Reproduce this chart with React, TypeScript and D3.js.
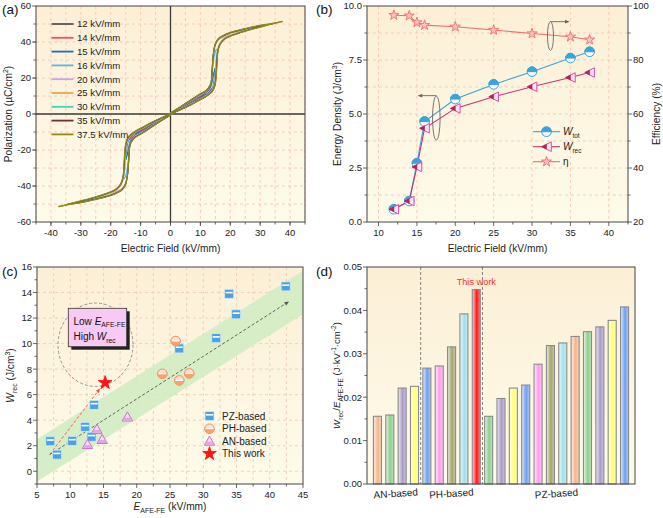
import React from "react";
import * as d3 from "d3";

const FONT = "'Liberation Sans', Arial, Helvetica, sans-serif";

// ---------------- Panel (a): P-E loops ----------------
const loopLabels = ["12 kV/mm", "14 kV/mm", "15 kV/mm", "16 kV/mm", "20 kV/mm", "25 kV/mm", "30 kV/mm", "35 kV/mm", "37.5 kV/mm"];
const rise12 = [[0, 0], [3, 2.6], [6, 5.3], [9, 8.1], [12, 11.2]];
const fall12 = [[12, 11.2], [9, 8.7], [6, 5.9], [3, 3.1], [0, 0.3]];
const rise14 = [[0, 0], [3, 2.5], [6, 5.1], [9, 7.9], [12, 10.8], [13.3, 12.7], [14, 14.5]];
const fall14 = [[14, 14.5], [13.2, 13.4], [12, 12], [9, 9.1], [6, 6.1], [3, 3.2], [0, 0.3]];
const rise15 = [[0, 0], [3, 2.4], [6, 5], [9, 7.7], [12, 10.6], [13.6, 13], [14.3, 15.8], [14.7, 20], [15, 25.5]];
const fall15 = [[15, 25.5], [14.5, 22.8], [14, 18.5], [13.3, 14.6], [12, 12.3], [9, 9.4], [6, 6.3], [3, 3.3], [0, 0.3]];
const rise16 = [[0, 0], [3, 2.4], [6, 4.9], [9, 7.6], [12, 10.4], [13.7, 12.9], [14.5, 16], [15, 23], [15.4, 31], [16, 36.5]];
const fall16 = [[16, 36.5], [15.2, 35.3], [14.5, 31], [14, 24], [13.5, 17.2], [12.5, 13.8], [12, 12.6], [9, 9.6], [6, 6.4], [3, 3.4], [0, 0.3]];
const rise20 = [[0, 0], [3, 2.3], [6, 4.8], [9, 7.5], [12, 10.2], [13.8, 12.9], [14.6, 16.2], [15.1, 24], [15.5, 33], [16.3, 38.5], [17.6, 41.5], [20, 44]];
const fall20 = [[20, 44], [17.5, 42.6], [16, 41], [15, 38.3], [14.3, 32.5], [13.9, 23], [13.5, 16.5], [12.6, 14], [12, 12.8], [9, 9.8], [6, 6.5], [3, 3.4], [0, 0.4]];
const rise25 = [[0, 0], [3, 2.3], [6, 4.7], [9, 7.4], [12, 10.1], [13.9, 12.9], [14.7, 16.3], [15.2, 24.5], [15.6, 33.5], [16.4, 38.6], [17.8, 41.6], [20, 43.7], [25, 46.6]];
const fall25 = [[25, 46.6], [22, 45.7], [20, 44.8], [17.5, 43], [16, 41.3], [15, 38.5], [14.3, 32.5], [13.9, 23], [13.5, 16.5], [12.6, 14], [12, 12.9], [9, 9.9], [6, 6.6], [3, 3.5], [0, 0.4]];
const rise30 = [[0, 0], [3, 2.2], [6, 4.6], [9, 7.3], [12, 10], [14, 12.9], [14.8, 16.4], [15.3, 25], [15.7, 34], [16.5, 38.7], [18, 41.7], [20, 43.5], [25, 46.3], [30, 48.6]];
const fall30 = [[30, 48.6], [25, 47.1], [20, 45], [17.5, 43.2], [16, 41.5], [15, 38.7], [14.3, 32.5], [13.9, 23], [13.5, 16.5], [12.6, 14.1], [12, 13], [9, 10], [6, 6.7], [3, 3.5], [0, 0.5]];
const rise35 = [[0, 0], [3, 2.2], [6, 4.5], [9, 7.2], [12, 9.9], [14.1, 12.9], [14.9, 16.5], [15.4, 25.5], [15.8, 34.5], [16.6, 38.8], [18.2, 41.8], [20, 43.3], [25, 46.1], [30, 48.4], [35, 50.4]];
const fall35 = [[35, 50.4], [30, 49.1], [25, 47.3], [20, 45.2], [17.5, 43.4], [16, 41.7], [15, 38.9], [14.3, 32.5], [13.9, 23], [13.5, 16.5], [12.6, 14.2], [12, 13.1], [9, 10.1], [6, 6.8], [3, 3.6], [0, 0.5]];
const rise375 = [[0, 0], [3, 2.1], [6, 4.4], [9, 7.1], [12, 9.8], [14.2, 12.9], [15, 16.6], [15.5, 26], [15.9, 35], [16.7, 39], [18.4, 41.9], [20, 43.2], [25, 46], [30, 48.3], [35, 50.5], [37.5, 51.5]];
const fall375 = [[37.5, 51.5], [35, 50.6], [30, 49.2], [25, 47.4], [20, 45.3], [17.5, 43.5], [16, 41.8], [15, 39], [14.3, 32.5], [13.9, 23], [13.5, 16.5], [12.6, 14.3], [12, 13.2], [9, 10.2], [6, 6.9], [3, 3.6], [0, 0.5]];
const loopRises = [rise12, rise14, rise15, rise16, rise20, rise25, rise30, rise35, rise375];
const loopFalls = [fall12, fall14, fall15, fall16, fall20, fall25, fall30, fall35, fall375];
const aXTicks = [-40, -30, -20, -10, 0, 10, 20, 30, 40];
const aYTicks = [-60, -40, -20, 0, 20, 40, 60];

// ---------------- Panel (b): energy storage ----------------
const bField = [12, 14, 15, 16, 20, 25, 30, 35, 37.5];
const bWtot = [0.59, 0.97, 2.72, 4.65, 5.69, 6.37, 6.96, 7.59, 7.88];
const bWrec = [0.59, 0.97, 2.55, 4.34, 5.26, 5.8, 6.26, 6.69, 6.92];
const bEta = [96.6, 96.4, 93.9, 92.9, 92.3, 91.1, 89.8, 88.6, 87.5];
const bXTicks = [10, 15, 20, 25, 30, 35, 40];
const bYTicks = [0, 2.5, 5, 7.5, 10];
const bY2Ticks = [20, 40, 60, 80, 100];

// ---------------- Panel (c): comparison scatter ----------------
const pzE = [7.0, 8.0, 10.3, 12.25, 13.2, 13.6, 26.4, 31.95, 33.9, 34.95, 42.4];
const pzW = [2.35, 1.3, 2.38, 3.48, 2.7, 5.2, 9.62, 10.43, 13.9, 12.29, 14.48];
const phE = [25.85, 23.85, 26.4, 27.9];
const phW = [10.2, 7.63, 7.11, 7.66];
const anE = [12.6, 14.0, 14.8, 18.6];
const anW = [2.09, 3.27, 2.48, 4.24];
const thisE = [15.25];
const thisW = [6.93];
const bandUpper = [[5, 2.5], [45, 15.7]];
const bandLower = [[5, -0.8], [45, 12.3]];
const trendArrow = [[6.9, 1.3], [42.9, 13.3]];
const thisArrow = [[6.9, 1.3], [14.5, 6.5]];
const cXTicks = [5, 10, 15, 20, 25, 30, 35, 40, 45];
const cYTicks = [0, 2, 4, 6, 8, 10, 12, 14, 16];
const cLegend = ["PZ-based", "PH-based", "AN-based", "This work"];

// ---------------- Panel (d): bars ----------------
const dGroupNames = ["AN-based", "PH-based", "PZ-based"];
const dGroupSizes = [4, 5, 12];
const dValues = [0.0156, 0.0159, 0.0221, 0.0225, 0.0267, 0.0272, 0.0316, 0.0392, 0.0448, 0.0156, 0.0197, 0.0221, 0.0228, 0.0276, 0.0319, 0.0325, 0.034, 0.0351, 0.0362, 0.0377, 0.0408];
const dThisWork = 8;
const dYTicks = [0, 0.01, 0.02, 0.03, 0.04, 0.05];

// ---------------- styles ----------------
const loopColors = ["#555555", "#f0506a", "#1f6fb5", "#52b8e6", "#c9a2ea", "#f0a44a", "#3fd6b8", "#6e2e3f", "#8c8c1c"];
const barPalette = ["#f5b588", "#8ccf8c", "#a99bc9", "#ffff78", "#6f9ff0", "#ff9cf0", "#a3a56e", "#9fe0ea"];
const AX = "#444";
const GRID = "#f3c4ae";
const TICK = 4;
const MINOR = 2.5;
const TFS = 9.5;

const A = { x0: 36, x1: 305, y0: 6, y1: 222 };
const B = { x0: 367, x1: 628, y0: 6, y1: 222 };
const C = { x0: 37, x1: 303, y0: 267, y1: 484 };
const D = { x0: 367, x1: 635, y0: 267, y1: 484 };

function mix(c: string, w: number) {
  return d3.interpolateRgb(c, "#ffffff")(w);
}

function Bg({ p }: any) {
  return <rect x={p.x0} y={p.y0} width={p.x1 - p.x0} height={p.y1 - p.y0} fill="url(#bgGrad)" />;
}

function Frame({ p }: any) {
  return <rect x={p.x0} y={p.y0} width={p.x1 - p.x0} height={p.y1 - p.y0} fill="none" stroke={AX} strokeWidth={1} />;
}

function XAxis({ s, major, minor, y, fmt }: any) {
  return (
    <g>
      {minor.map((v: number) => (
        <line key={"m" + v} x1={s(v)} x2={s(v)} y1={y} y2={y + MINOR} stroke={AX} strokeWidth={0.8} />
      ))}
      {major.map((v: number) => (
        <g key={"M" + v}>
          <line x1={s(v)} x2={s(v)} y1={y} y2={y + TICK} stroke={AX} strokeWidth={0.8} />
          <text x={s(v)} y={y + 13.5} textAnchor="middle" fontSize={TFS} fill="#222">{fmt(v)}</text>
        </g>
      ))}
    </g>
  );
}

function YAxis({ s, major, minor, x, fmt, right }: any) {
  const d = right ? 1 : -1;
  return (
    <g>
      {minor.map((v: number) => (
        <line key={"m" + v} x1={x} x2={x + d * MINOR} y1={s(v)} y2={s(v)} stroke={AX} strokeWidth={0.8} />
      ))}
      {major.map((v: number) => (
        <g key={"M" + v}>
          <line x1={x} x2={x + d * TICK} y1={s(v)} y2={s(v)} stroke={AX} strokeWidth={0.8} />
          <text x={x + d * 5} y={s(v) + 3.4} textAnchor={right ? "start" : "end"} fontSize={TFS} fill="#222">{fmt(v)}</text>
        </g>
      ))}
    </g>
  );
}

function range(a: number, b: number, step: number) {
  return d3.range(a, b + step / 2, step);
}

function PanelA() {
  const x = d3.scaleLinear().domain([-45, 45]).range([A.x0, A.x1]);
  const y = d3.scaleLinear().domain([-60, 60]).range([A.y1, A.y0]);
  const line = d3.line<number[]>().x((d) => x(d[0])).y((d) => y(d[1])).curve(d3.curveCatmullRom.alpha(0.5));
  const neg = (arr: number[][]) => arr.map((d) => [-d[0], -d[1]]);
  return (
    <g>
      <Bg p={A} />
      <g clipPath="url(#clipA)">
        {range(-45, 45, 5).map((v) => (
          <line key={"gx" + v} x1={x(v)} x2={x(v)} y1={A.y0} y2={A.y1} stroke={GRID} strokeDasharray="3,3" strokeWidth={0.8} />
        ))}
        {range(-50, 50, 10).map((v) => (
          <line key={"gy" + v} x1={A.x0} x2={A.x1} y1={y(v)} y2={y(v)} stroke={GRID} strokeDasharray="3,3" strokeWidth={0.8} />
        ))}
        <line x1={x(0)} x2={x(0)} y1={A.y0} y2={A.y1} stroke="#3a3a3a" strokeWidth={1.3} />
        <line x1={A.x0} x2={A.x1} y1={y(0)} y2={y(0)} stroke="#3a3a3a" strokeWidth={1.3} />
        {loopRises.map((r, i) => (
          <g key={"loop" + i} fill="none" stroke={loopColors[i]} strokeWidth={1.2}>
            <path d={line(r as number[][]) || ""} />
            <path d={line(loopFalls[i] as number[][]) || ""} />
            <path d={line(neg(r as number[][])) || ""} />
            <path d={line(neg(loopFalls[i] as number[][])) || ""} />
          </g>
        ))}
      </g>
      {loopLabels.map((l, i) => {
        const yy = 24 + i * 13.8;
        return (
          <g key={"leg" + i}>
            <line x1={51.5} x2={73.5} y1={yy} y2={yy} stroke={loopColors[i]} strokeWidth={1.8} />
            <text x={77} y={yy + 3.4} fontSize={9.6} fill="#222">{l}</text>
          </g>
        );
      })}
      <Frame p={A} />
      <XAxis s={x} major={aXTicks} minor={range(-45, 45, 5)} y={A.y1} fmt={(v: number) => String(v)} />
      <YAxis s={y} major={aYTicks} minor={range(-50, 50, 10)} x={A.x0} fmt={(v: number) => String(v)} />
      <text x={(A.x0 + A.x1) / 2} y={252} textAnchor="middle" fontSize={10.2} fill="#222">Electric Field (kV/mm)</text>
      <text transform={`translate(12,${(A.y0 + A.y1) / 2}) rotate(-90)`} textAnchor="middle" fontSize={10.2} fill="#222">
        Polarization (µC/cm<tspan dy={-4} fontSize={7}>2</tspan><tspan dy={4}>)</tspan>
      </text>
      <text x={2} y={14} fontSize={13.5} fill="#111">(a)</text>
    </g>
  );
}

function HalfCircle({ cx, cy, r, color, light }: any) {
  return (
    <g>
      <circle cx={cx} cy={cy} r={r} fill={light} stroke={color} strokeWidth={1} />
      <path d={`M${cx - r},${cy} A${r},${r} 0 0 1 ${cx + r},${cy} Z`} fill={color} stroke={color} strokeWidth={1} />
    </g>
  );
}

function HalfTriLeft({ cx, cy, r, color, dark }: any) {
  return (
    <g>
      <path d={`M${cx - r},${cy} L${cx + r},${cy - r} L${cx + r},${cy + r} Z`} fill="#fbe3f3" stroke={color} strokeWidth={1} />
      <path d={`M${cx - r},${cy} L${cx},${cy - r / 2} L${cx},${cy + r / 2} Z`} fill={dark} stroke={dark} strokeWidth={0.6} />
    </g>
  );
}

function Star({ cx, cy, size, fill, stroke }: any) {
  const sym = d3.symbol().type(d3.symbolStar).size(size)();
  return <path d={sym || ""} transform={`translate(${cx},${cy})`} fill={fill} stroke={stroke} strokeWidth={0.9} />;
}

function Arrow({ x1, y1, x2, y2, color, dash, w = 1, head = 5 }: any) {
  const ang = Math.atan2(y2 - y1, x2 - x1);
  const hx1 = x2 - head * Math.cos(ang - 0.4);
  const hy1 = y2 - head * Math.sin(ang - 0.4);
  const hx2 = x2 - head * Math.cos(ang + 0.4);
  const hy2 = y2 - head * Math.sin(ang + 0.4);
  return (
    <g>
      <line x1={x1} y1={y1} x2={x2 - 2 * Math.cos(ang)} y2={y2 - 2 * Math.sin(ang)} stroke={color} strokeWidth={w} strokeDasharray={dash} />
      <path d={`M${x2},${y2} L${hx1},${hy1} L${hx2},${hy2} Z`} fill={color} />
    </g>
  );
}

function PanelB() {
  const x = d3.scaleLinear().domain([8.5, 42.5]).range([B.x0, B.x1]);
  const y = d3.scaleLinear().domain([0, 10]).range([B.y1, B.y0]);
  const y2 = d3.scaleLinear().domain([20, 100]).range([B.y1, B.y0]);
  const lTot = d3.line<number>().x((_, i) => x(bField[i])).y((d) => y(d));
  const lEta = d3.line<number>().x((_, i) => x(bField[i])).y((d) => y2(d));
  const cTot = "#3aa3dc";
  const cRec = "#c8347a";
  const cEta = "#f26d6d";
  const legY = [131.7, 146.7, 161.7];
  return (
    <g>
      <Bg p={B} />
      <g clipPath="url(#clipB)">
        {range(10, 40, 5).map((v) => (
          <line key={"gx" + v} x1={x(v)} x2={x(v)} y1={B.y0} y2={B.y1} stroke={GRID} strokeDasharray="3,3" strokeWidth={0.8} />
        ))}
        {range(1.25, 8.75, 1.25).map((v) => (
          <line key={"gy" + v} x1={B.x0} x2={B.x1} y1={y(v)} y2={y(v)} stroke={GRID} strokeDasharray="3,3" strokeWidth={0.8} />
        ))}
        <path d={lTot(bWtot) || ""} fill="none" stroke={cTot} strokeWidth={1.1} />
        <path d={lTot(bWrec) || ""} fill="none" stroke={cRec} strokeWidth={1.1} />
        <path d={lEta(bEta) || ""} fill="none" stroke={cEta} strokeWidth={1.1} />
        {bWtot.map((v, i) => <HalfCircle key={"t" + i} cx={x(bField[i])} cy={y(v)} r={4.8} color={cTot} light="#f4fbff" />)}
        {bWrec.map((v, i) => <HalfTriLeft key={"r" + i} cx={x(bField[i])} cy={y(v)} r={4.8} color="#d94fae" dark="#b0244f" />)}
        {bEta.map((v, i) => <Star key={"e" + i} cx={x(bField[i])} cy={y2(v)} size={32} fill="#fbc2c2" stroke={cEta} />)}
      </g>
      {/* annotations */}
      <ellipse cx={x(17.53)} cy={y(4.81)} rx={3.8} ry={22} fill="none" stroke="#666" strokeWidth={0.9} />
      <Arrow x1={x(17.53)} y1={y(5.85)} x2={x(15.1)} y2={y(5.85)} color="#666" w={0.9} head={5} />
      <ellipse cx={x(32.4)} cy={y2(88.9)} rx={3} ry={14.5} fill="none" stroke="#666" strokeWidth={0.9} />
      <Arrow x1={x(32.4)} y1={y2(94.2)} x2={x(34.9)} y2={y2(94.2)} color="#666" w={0.9} head={5} />
      {/* legend */}
      <line x1={533} x2={560} y1={legY[0]} y2={legY[0]} stroke={cTot} strokeWidth={1.1} />
      <HalfCircle cx={546.5} cy={legY[0]} r={4.8} color={cTot} light="#f4fbff" />
      <line x1={533} x2={560} y1={legY[1]} y2={legY[1]} stroke={cRec} strokeWidth={1.1} />
      <HalfTriLeft cx={546.5} cy={legY[1]} r={4.8} color="#d94fae" dark="#b0244f" />
      <line x1={533} x2={560} y1={legY[2]} y2={legY[2]} stroke={cEta} strokeWidth={1.1} />
      <Star cx={546.5} cy={legY[2]} size={32} fill="#fbc2c2" stroke={cEta} />
      <text x={563} y={legY[0] + 3.5} fontSize={10} fill="#222"><tspan fontStyle="italic">W</tspan><tspan dy={2.5} fontSize={6.5}>tot</tspan></text>
      <text x={563} y={legY[1] + 3.5} fontSize={10} fill="#222"><tspan fontStyle="italic">W</tspan><tspan dy={2.5} fontSize={6.5}>rec</tspan></text>
      <text x={563} y={legY[2] + 3.5} fontSize={10} fill="#222">η</text>
      <Frame p={B} />
      <XAxis s={x} major={bXTicks} minor={range(12.5, 42.5, 5)} y={B.y1} fmt={(v: number) => String(v)} />
      <YAxis s={y} major={bYTicks} minor={range(1.25, 8.75, 2.5)} x={B.x0} fmt={(v: number) => v.toFixed(1)} />
      <YAxis s={y2} major={bY2Ticks} minor={range(30, 90, 20)} x={B.x1} fmt={(v: number) => String(v)} right />
      <text x={(B.x0 + B.x1) / 2} y={252} textAnchor="middle" fontSize={10.2} fill="#222">Electric Field (kV/mm)</text>
      <text transform={`translate(341,${(B.y0 + B.y1) / 2}) rotate(-90)`} textAnchor="middle" fontSize={10.2} fill="#222">
        Energy Density (J/cm<tspan dy={-4} fontSize={7}>3</tspan><tspan dy={4}>)</tspan>
      </text>
      <text transform={`translate(660,${(B.y0 + B.y1) / 2}) rotate(-90)`} textAnchor="middle" fontSize={10.2} fill="#222">Efficiency (%)</text>
      <text x={316} y={14} fontSize={13.5} fill="#111">(b)</text>
    </g>
  );
}

function PZMark({ cx, cy }: any) {
  return (
    <g>
      <rect x={cx - 4.5} y={cy - 4.5} width={9} height={9} fill="#4aa3e0" stroke="#cfe8f8" strokeWidth={0.8} />
      <rect x={cx - 3.5} y={cy - 2} width={7} height={1.6} fill="#ffffff" />
    </g>
  );
}

function PHMark({ cx, cy }: any) {
  const r = 4.8;
  return (
    <g>
      <circle cx={cx} cy={cy} r={r} fill="#ffe0cf" stroke="#f08a5a" strokeWidth={1} />
      <path d={`M${cx - r},${cy} A${r},${r} 0 0 0 ${cx + r},${cy} Z`} fill="#f5a26e" />
      <line x1={cx - r + 1} x2={cx + r - 1} y1={cy} y2={cy} stroke="#fff" strokeWidth={1} />
    </g>
  );
}

function ANMark({ cx, cy }: any) {
  const r = 5.2;
  return (
    <g>
      <path d={`M${cx},${cy - r} L${cx + r},${cy + r * 0.75} L${cx - r},${cy + r * 0.75} Z`} fill="#f7d8f5" stroke="#cc6fcc" strokeWidth={1} />
      <path d={`M${cx - r * 0.55},${cy + r * 0.1} L${cx + r * 0.55},${cy + r * 0.1} L${cx + r * 0.9},${cy + r * 0.65} L${cx - r * 0.9},${cy + r * 0.65} Z`} fill="#e3a6e3" />
    </g>
  );
}

function PanelC() {
  const x = d3.scaleLinear().domain([5, 45]).range([C.x0, C.x1]);
  const y = d3.scaleLinear().domain([-1, 16]).range([C.y1, C.y0]);
  const bandPts = [...bandUpper, ...[...bandLower].reverse()].map((d) => [x(d[0]), y(d[1])].join(",")).join(" ");
  const legY = [416, 428.7, 441.3, 453.7];
  return (
    <g>
      <Bg p={C} />
      <g clipPath="url(#clipC)">
        {range(7.5, 42.5, 2.5).map((v) => (
          <line key={"gx" + v} x1={x(v)} x2={x(v)} y1={C.y0} y2={C.y1} stroke={GRID} strokeDasharray="3,3" strokeWidth={0.8} />
        ))}
        {range(0, 14, 2).map((v) => (
          <line key={"gy" + v} x1={C.x0} x2={C.x1} y1={y(v)} y2={y(v)} stroke={GRID} strokeDasharray="3,3" strokeWidth={0.8} />
        ))}
        <polygon points={bandPts} fill="#d2ecc3" fillOpacity={0.9} />
      </g>
      <ellipse cx={95.5} cy={344.7} rx={37.5} ry={41.7} fill="none" stroke="#8a8a8a" strokeDasharray="3,2" strokeWidth={0.9} />
      <Arrow x1={x(trendArrow[0][0])} y1={y(trendArrow[0][1])} x2={x(trendArrow[1][0])} y2={y(trendArrow[1][1])} color="#555" dash="3,2" w={0.9} head={5} />
      <Arrow x1={x(thisArrow[0][0])} y1={y(thisArrow[0][1])} x2={x(thisArrow[1][0])} y2={y(thisArrow[1][1])} color="#ff4a4a" dash="3,2" w={0.9} head={5} />
      {pzE.map((e, i) => <PZMark key={"pz" + i} cx={x(e)} cy={y(pzW[i])} />)}
      {phE.map((e, i) => <PHMark key={"ph" + i} cx={x(e)} cy={y(phW[i])} />)}
      {anE.map((e, i) => <ANMark key={"an" + i} cx={x(e)} cy={y(anW[i])} />)}
      {thisE.map((e, i) => <Star key={"tw" + i} cx={x(e)} cy={y(thisW[i])} size={58} fill="#ff1414" stroke="#ff1414" />)}
      {/* text box */}
      <rect x={71.3} y={311.3} width={58.4} height={38.4} fill="#222" />
      <rect x={68.3} y={308.3} width={58.4} height={38.4} fill="#f8c9f3" stroke="#333" strokeWidth={0.8} />
      <text x={73.5} y={324.5} fontSize={10} fill="#111">Low <tspan fontStyle="italic">E</tspan><tspan dy={2.5} fontSize={6.8}>AFE-FE</tspan></text>
      <text x={73.5} y={340} fontSize={10} fill="#111">High <tspan fontStyle="italic">W</tspan><tspan dy={2.5} fontSize={6.8}>rec</tspan></text>
      {/* legend */}
      <PZMark cx={209.5} cy={legY[0]} />
      <PHMark cx={209.5} cy={legY[1]} />
      <ANMark cx={209.5} cy={legY[2]} />
      <Star cx={209.5} cy={legY[3]} size={58} fill="#ff1414" stroke="#ff1414" />
      {cLegend.map((l, i) => (
        <text key={l} x={222} y={legY[i] + 3.5} fontSize={10} fill="#222">{l}</text>
      ))}
      <Frame p={C} />
      <XAxis s={x} major={cXTicks} minor={range(7.5, 42.5, 5)} y={C.y1} fmt={(v: number) => String(v)} />
      <YAxis s={y} major={cYTicks} minor={range(-1, 15, 2)} x={C.x0} fmt={(v: number) => String(v)} />
      <text x={(C.x0 + C.x1) / 2} y={510} textAnchor="middle" fontSize={10.2} fill="#222">
        <tspan fontStyle="italic">E</tspan><tspan dy={2.5} fontSize={7}>AFE-FE</tspan><tspan dy={-2.5}> (kV/mm)</tspan>
      </text>
      <text transform={`translate(14,${(C.y0 + C.y1) / 2}) rotate(-90)`} textAnchor="middle" fontSize={10.2} fill="#222">
        <tspan fontStyle="italic">W</tspan><tspan dy={2.5} fontSize={7}>rec</tspan><tspan dy={-2.5}> (J/cm</tspan><tspan dy={-4} fontSize={7}>3</tspan><tspan dy={4}>)</tspan>
      </text>
      <text x={2} y={276} fontSize={13.5} fill="#111">(c)</text>
    </g>
  );
}

function PanelD() {
  const idx = dValues.map((_, i) => i);
  const x = d3.scaleBand<number>().domain(idx).range([D.x0, D.x1]).paddingInner(0.35).paddingOuter(0.52);
  const y = d3.scaleLinear().domain([0, 0.05]).range([D.y1, D.y0]);
  const starts: number[] = [];
  let acc = 0;
  dGroupSizes.forEach((n) => { starts.push(acc); acc += n; });
  return (
    <g>
      <defs>
        {idx.map((i) => {
          const c = i === dThisWork ? "#ff1a1a" : barPalette[i % barPalette.length];
          return (
            <linearGradient key={"bg" + i} id={"barG" + i} x1="0" x2="1" y1="0" y2="0">
              <stop offset="0" stopColor={mix(c, 0.8)} />
              <stop offset="0.55" stopColor={c} />
              <stop offset="1" stopColor={mix(c, 0.45)} />
            </linearGradient>
          );
        })}
      </defs>
      <Bg p={D} />
      {dValues.map((v, i) => (
        <rect key={"b" + i} x={x(i)} y={y(v)} width={x.bandwidth()} height={y(0) - y(v)} fill={`url(#barG${i})`} stroke="#8a8a8a" strokeWidth={1.1} />
      ))}
      {starts.slice(1).map((s, k) => {
        const xx = (x(s - 1)! + x.bandwidth() + x(s)!) / 2;
        return <line key={"sep" + k} x1={xx} x2={xx} y1={D.y0} y2={D.y1} stroke="#666" strokeDasharray="3,2" strokeWidth={0.8} />;
      })}
      <text x={x(dThisWork)! + x.bandwidth() / 2} y={285} textAnchor="middle" fontSize={9.2} fill="#ff3030">This work</text>
      {dGroupNames.map((g, k) => {
        const first = x(starts[k])!;
        const last = x(starts[k] + dGroupSizes[k] - 1)! + x.bandwidth();
        const cx = (first + last) / 2;
        return (
          <text key={g} transform={`translate(${cx},${497}) rotate(-4)`} textAnchor="middle" fontSize={10} fill="#222">{g}</text>
        );
      })}
      <Frame p={D} />
      <YAxis s={y} major={dYTicks} minor={range(0.005, 0.045, 0.01)} x={D.x0} fmt={(v: number) => v.toFixed(2)} />
      <text transform={`translate(340,${(D.y0 + D.y1) / 2}) rotate(-90)`} textAnchor="middle" fontSize={9.6} fill="#222">
        <tspan fontStyle="italic">W</tspan><tspan dy={2.5} fontSize={6.6}>rec</tspan><tspan dy={-2.5}>/</tspan><tspan fontStyle="italic">E</tspan><tspan dy={2.5} fontSize={6.6}>AFE-FE</tspan><tspan dy={-2.5}> (J·kV</tspan><tspan dy={-4} fontSize={6.6}>-1</tspan><tspan dy={4}>·cm</tspan><tspan dy={-4} fontSize={6.6}>-2</tspan><tspan dy={4}>)</tspan>
      </text>
      <text x={316} y={276} fontSize={13.5} fill="#111">(d)</text>
    </g>
  );
}

export default function App() {
  const clips = [["clipA", A], ["clipB", B], ["clipC", C]] as const;
  return (
    <div style={{ position: "absolute", left: 0, top: 0 }}>
      <svg width={663} height={518} style={{ display: "block", background: "#ffffff" }} fontFamily={FONT}>
        <defs>
          <linearGradient id="bgGrad" x1="0" x2="0" y1="0" y2="1">
            <stop offset="0" stopColor="#fcefd6" />
            <stop offset="1" stopColor="#fefbea" />
          </linearGradient>
          {clips.map(([id, p]) => (
            <clipPath key={id} id={id}>
              <rect x={p.x0} y={p.y0} width={p.x1 - p.x0} height={p.y1 - p.y0} />
            </clipPath>
          ))}
        </defs>
        <PanelA />
        <PanelB />
        <PanelC />
        <PanelD />
      </svg>
    </div>
  );
}
